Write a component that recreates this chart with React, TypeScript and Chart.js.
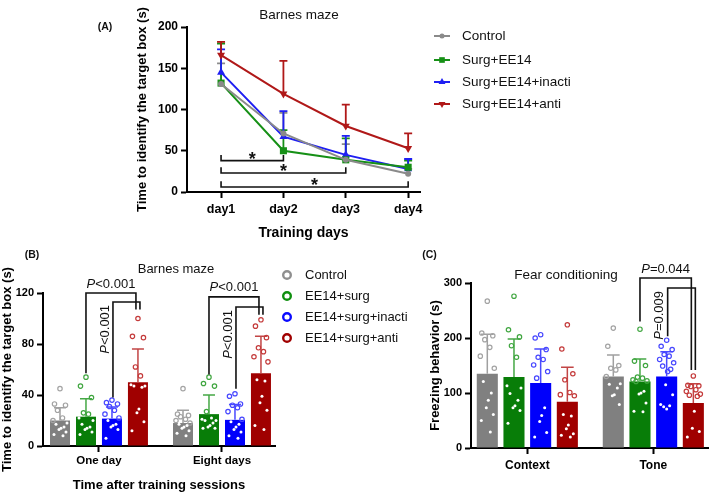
import React, { useEffect, useRef } from 'react';
import { Chart, registerables } from 'chart.js';

Chart.register(...registerables);

const FONT = "Arial, 'Liberation Sans', Helvetica, sans-serif";

// ===== Panel A: Barnes maze over training days =====
const daysA = ['day1', 'day2', 'day3', 'day4'];
const groupsA = ['Control', 'Surg+EE14', 'Surg+EE14+inacti', 'Surg+EE14+anti'];
const controlA = [131, 71, 39, 22];
const controlErrA = [25, 25, 19, 6];
const ee14A = [132, 50, 39, 30];
const ee14ErrA = [48, 25, 26, 8];
const inactiA = [145, 67, 45, 28];
const inactiErrA = [28, 31, 23, 12];
const antiA = [166, 119, 80, 53];
const antiErrA = [16, 40, 26, 18];
const yTicksA = [0, 50, 100, 150, 200];
const sigFromA = [0, 0, 0];
const sigToA = [1, 2, 3];
const sigLevelA = [38, 23, 6];
const sigLabelA = ['*', '*', '*'];

// ===== Panel B: Barnes maze after training =====
const sessionsB = ['One day', 'Eight days'];
const groupsB = ['Control', 'EE14+surg', 'EE14+surg+inacti', 'EE14+surg+anti'];
const controlB = [20, 18];
const controlSdB = [10, 10];
const ee14B = [23, 25];
const ee14SdB = [14, 15];
const inactiB = [21.5, 20.5];
const inactiSdB = [9, 12];
const antiB = [50, 57];
const antiSdB = [26, 29];
const controlPtsB = [
  [45, 33, 32, 28, 22, 20, 18, 17, 15, 14, 13, 11, 9, 8],
  [45, 25, 24, 23, 21, 20, 18, 17, 16, 15, 14, 12, 10, 8],
];
const ee14PtsB = [
  [54, 47, 38, 26, 25, 22, 20, 17, 15, 14, 13, 11, 9],
  [54, 49, 47, 27, 22, 21, 20, 20, 18, 16, 15, 14, 14],
];
const inactiPtsB = [
  [36, 34, 33, 31, 28, 25, 22, 20, 17, 16, 15, 13, 6],
  [41, 39, 33, 32, 30, 27, 21, 19, 17, 15, 13, 11, 8, 6],
];
const antiPtsB = [
  [100, 86, 85, 62, 55, 48, 47, 47, 46, 29, 26, 19, 12],
  [99, 94, 85, 77, 74, 70, 66, 52, 51, 39, 34, 28, 16, 13],
];
const yTicksB = [0, 40, 80, 120];
const bracketsB = [
  { group: 0, from: 1, to: 3, start: 57, top: 120, end: 107, label: 'P<0.001', vertical: false },
  { group: 0, from: 2, to: 3, start: 38, top: 113, end: 107, label: 'P<0.001', vertical: true },
  { group: 1, from: 1, to: 3, start: 56, top: 117, end: 103, label: 'P<0.001', vertical: false },
  { group: 1, from: 2, to: 3, start: 45, top: 109, end: 103, label: 'P<0.001', vertical: true },
];

// ===== Panel C: Fear conditioning =====
const testsC = ['Context', 'Tone'];
const controlC = [135, 130];
const controlSdC = [72, 39];
const ee14C = [129, 121];
const ee14SdC = [69, 41];
const inactiC = [118, 130];
const inactiSdC = [62, 45];
const antiC = [84, 82];
const antiSdC = [63, 35];
const controlPtsC = [
  [267, 209, 204, 197, 183, 167, 145, 121, 100, 87, 73, 61, 50, 29],
  [218, 185, 150, 145, 142, 130, 117, 116, 109, 97, 95, 79],
];
const ee14PtsC = [
  [276, 215, 202, 186, 165, 113, 109, 99, 87, 77, 73, 68, 45],
  [216, 158, 150, 129, 127, 124, 122, 121, 103, 100, 98, 82, 67, 66],
];
const inactiPtsC = [
  [206, 200, 179, 165, 161, 151, 139, 127, 73, 59, 48, 28, 20],
  [196, 185, 179, 170, 167, 161, 155, 149, 143, 139, 115, 97, 79, 77, 75, 71],
];
const antiPtsC = [
  [224, 180, 135, 124, 101, 97, 95, 61, 58, 42, 35, 26, 23, 20],
  [131, 114, 113, 112, 106, 103, 98, 96, 94, 67, 36, 30, 20],
];
const yTicksC = [0, 100, 200, 300];
const bracketsC = [
  { group: 1, from: 1, to: 3, start: 230, top: 309, end: 142, label: 'P=0.044', vertical: false },
  { group: 1, from: 2, to: 3, start: 203, top: 291, end: 142, label: 'P=0.009', vertical: true },
];

// ===== styles =====
const LINE_COLORS = ['#8a8a8a', '#169016', '#1f1ff2', '#b01818'];
const BAR_COLORS = ['#808080', '#087d08', '#0000fb', '#a00000'];
const PT_COLORS = ['#a3a3a3', '#40a640', '#4646ff', '#c43a3a'];
const ERR_COLORS = ['#a0a0a0', '#45a845', '#4a4aff', '#c24545'];
const LEG_COLORS = ['#8f8f8f', '#0f8f0f', '#0a0aff', '#a00000'];
const JIT = [0, -5.5, 5.5, -2.5, 2.5, -7, 7, -4, 4, 1, -1, 6, -6, 3, -3, 0];

function marker(ctx: CanvasRenderingContext2D, style: string, x: number, y: number, r: number, color: string) {
  ctx.fillStyle = color;
  ctx.beginPath();
  if (style === 'circle') ctx.arc(x, y, r, 0, Math.PI * 2);
  else if (style === 'rect') ctx.rect(x - r * 0.707, y - r * 0.707, r * 1.414, r * 1.414);
  else if (style === 'tri') {
    ctx.moveTo(x, y - r); ctx.lineTo(x + r * 0.866, y + r * 0.5); ctx.lineTo(x - r * 0.866, y + r * 0.5); ctx.closePath();
  } else {
    ctx.moveTo(x, y + r); ctx.lineTo(x + r * 0.866, y - r * 0.5); ctx.lineTo(x - r * 0.866, y - r * 0.5); ctx.closePath();
  }
  ctx.fill();
}

function text(ctx: CanvasRenderingContext2D, s: string, x: number, y: number, size: number, bold: boolean, align: CanvasTextAlign = 'center') {
  ctx.save();
  ctx.font = `${bold ? 'bold ' : ''}${size}px ${FONT}`;
  ctx.fillStyle = '#111';
  ctx.textAlign = align;
  ctx.textBaseline = 'middle';
  ctx.fillText(s, x, y);
  ctx.restore();
}

function drawP(ctx: CanvasRenderingContext2D, s: string, x: number, y: number, rotated: boolean, size: number) {
  const first = s[0];
  const rest = s.slice(1);
  ctx.save();
  ctx.fillStyle = '#111';
  ctx.textBaseline = 'middle';
  ctx.textAlign = 'left';
  ctx.font = `italic ${size}px ${FONT}`;
  const w1 = ctx.measureText(first).width;
  ctx.font = `${size}px ${FONT}`;
  const w2 = ctx.measureText(rest).width;
  ctx.translate(x, y);
  let start = -(w1 + w2) / 2;
  if (rotated) {
    ctx.rotate(-Math.PI / 2);
    start = -(w1 + w2);
  }
  ctx.font = `italic ${size}px ${FONT}`;
  ctx.fillText(first, start, 0);
  ctx.font = `${size}px ${FONT}`;
  ctx.fillText(rest, start + w1, 0);
  ctx.restore();
}

const axisCommon = (tickFont: number) => ({
  grid: { display: true, drawOnChartArea: false, drawTicks: true, tickLength: 6, tickWidth: 2, color: '#000', offset: false },
  border: { display: true, color: '#000', width: 2 },
  ticks: { color: '#000', font: { family: FONT, size: tickFont, weight: 'bold' as const }, maxRotation: 0, autoSkip: false },
});

function makeA(canvas: HTMLCanvasElement) {
  const means = [controlA, ee14A, inactiA, antiA];
  const errs = [controlErrA, ee14ErrA, inactiErrA, antiErrA];
  const styles = ['circle', 'rect', 'triangle', 'triangle'];
  const radii = [3, 5, 4.6, 4.6];
  const rots = [0, 0, 0, 180];
  const legStyles = ['circle', 'rect', 'tri', 'triDown'];
  const plugin = {
    id: 'panelA',
    beforeDatasetsDraw(chart: any) {
      const ctx = chart.ctx as CanvasRenderingContext2D;
      const yS = chart.scales.y;
      means.forEach((m, di) => {
        const meta = chart.getDatasetMeta(di);
        ctx.save();
        ctx.strokeStyle = LINE_COLORS[di];
        ctx.lineWidth = 1.8;
        m.forEach((v, i) => {
          const x = meta.data[i].x;
          const y0 = yS.getPixelForValue(v);
          const y1 = yS.getPixelForValue(v + errs[di][i]);
          ctx.beginPath();
          ctx.moveTo(x, y0); ctx.lineTo(x, y1);
          ctx.moveTo(x - 4, y1); ctx.lineTo(x + 4, y1);
          ctx.stroke();
        });
        ctx.restore();
      });
    },
    afterDraw(chart: any) {
      const ctx = chart.ctx as CanvasRenderingContext2D;
      const xS = chart.scales.x;
      const yS = chart.scales.y;
      ctx.save();
      ctx.strokeStyle = '#111';
      ctx.lineWidth = 1.6;
      sigLevelA.forEach((lvl, k) => {
        const x1 = xS.getPixelForValue(sigFromA[k] + 1);
        const x2 = xS.getPixelForValue(sigToA[k] + 1);
        const yl = yS.getPixelForValue(lvl);
        const yt = yS.getPixelForValue(lvl + 7);
        ctx.beginPath();
        ctx.moveTo(x1, yt); ctx.lineTo(x1, yl); ctx.lineTo(x2, yl); ctx.lineTo(x2, yt);
        ctx.stroke();
        ctx.font = `bold 18px ${FONT}`;
        ctx.fillStyle = '#111';
        ctx.textAlign = 'center';
        ctx.textBaseline = 'alphabetic';
        ctx.fillText(sigLabelA[k], (x1 + x2) / 2, yl + 4);
      });
      ctx.restore();
      // legend
      const ly = [36, 60, 82, 104];
      groupsA.forEach((g, i) => {
        ctx.save();
        ctx.strokeStyle = LINE_COLORS[i];
        ctx.lineWidth = 2;
        ctx.beginPath(); ctx.moveTo(344, ly[i]); ctx.lineTo(360, ly[i]); ctx.stroke();
        ctx.restore();
        marker(ctx, legStyles[i], 352, ly[i], i === 0 ? 2.5 : 4, LINE_COLORS[i]);
        text(ctx, g, 372, ly[i], 13.5, false, 'left');
      });
      text(ctx, '(A)', 15, 27, 10.5, true);
      text(ctx, 'Barnes maze', 209, 15, 13.5, false);
    },
  };
  const base = axisCommon(12);
  return new Chart(canvas, {
    type: 'line',
    data: {
      datasets: means.map((m, di) => ({
        label: groupsA[di],
        data: m.map((v, i) => ({ x: i + 1, y: v })),
        borderColor: LINE_COLORS[di],
        backgroundColor: LINE_COLORS[di],
        borderWidth: 2,
        pointStyle: styles[di] as any,
        pointRadius: radii[di],
        pointRotation: rots[di],
        pointBorderWidth: 0,
        tension: 0,
      })),
    },
    options: {
      responsive: false,
      animation: false,
      devicePixelRatio: 1,
      events: [],
      layout: { padding: { left: 0, top: 27, right: 150, bottom: 0 } },
      plugins: { legend: { display: false }, tooltip: { enabled: false } },
      scales: {
        x: {
          type: 'linear',
          min: 0.454,
          max: 4.19,
          offset: false,
          ...base,
          ticks: { ...base.ticks, font: { family: FONT, size: 12.5, weight: 'bold' }, padding: 4, callback: (v: any) => daysA[v - 1] ?? '' },
          afterBuildTicks: (s: any) => { s.ticks = daysA.map((_, i) => ({ value: i + 1 })); },
          afterFit: (s: any) => { s.height = 53; },
          title: { display: true, text: 'Training days', color: '#000', font: { family: FONT, size: 14, weight: 'bold', lineHeight: 1.2 }, padding: { top: 0, bottom: 3 } },
        },
        y: {
          min: 0,
          max: 200,
          ...base,
          ticks: { ...base.ticks, padding: 3 },
          afterBuildTicks: (s: any) => { s.ticks = yTicksA.map((v) => ({ value: v })); },
          afterFit: (s: any) => { s.width = 97; },
          title: { display: true, text: 'Time to identify the target box (s)', color: '#000', font: { family: FONT, size: 13, weight: 'bold', lineHeight: 1.2 }, padding: { top: 45, bottom: 0 } },
        },
      },
    } as any,
    plugins: [plugin],
  });
}

type Bracket = { group: number; from: number; to: number; start: number; top: number; end: number; label: string; vertical: boolean };

type BarCfg = {
  cats: string[];
  means: number[][];
  sds: number[][];
  pts: number[][][];
  yTicks: number[];
  brackets: Bracket[];
  xMin: number; xMax: number;
  catPct: number; barPct: number;
  padding: any;
  yWidth: number; xHeight: number;
  yTitle: string; yTitlePad: number;
  xTitle?: string;
  yFont: number; xFont: number; xTickPad: number;
  extra: (ctx: CanvasRenderingContext2D) => void;
};

function makeBar(canvas: HTMLCanvasElement, cfg: BarCfg) {
  const plugin = {
    id: 'barDecor',
    afterDatasetsDraw(chart: any) {
      const ctx = chart.ctx as CanvasRenderingContext2D;
      const yS = chart.scales.y;
      cfg.means.forEach((m, di) => {
        const meta = chart.getDatasetMeta(di);
        m.forEach((mean, gi) => {
          const bar = meta.data[gi];
          const x = bar.x;
          const w = bar.width;
          const y0 = yS.getPixelForValue(mean);
          const y1 = yS.getPixelForValue(mean + cfg.sds[di][gi]);
          ctx.save();
          ctx.strokeStyle = ERR_COLORS[di];
          ctx.lineWidth = 1.5;
          ctx.beginPath();
          ctx.moveTo(x, y0); ctx.lineTo(x, y1);
          ctx.moveTo(x - w * 0.3, y1); ctx.lineTo(x + w * 0.3, y1);
          ctx.stroke();
          cfg.pts[di][gi].forEach((v, k) => {
            const px = x + JIT[k % JIT.length];
            const py = yS.getPixelForValue(v);
            if (v < mean) {
              ctx.fillStyle = '#ffffff';
              ctx.beginPath(); ctx.arc(px, py, 1.5, 0, Math.PI * 2); ctx.fill();
            } else {
              ctx.strokeStyle = PT_COLORS[di];
              ctx.lineWidth = 1.2;
              ctx.beginPath(); ctx.arc(px, py, 2.2, 0, Math.PI * 2); ctx.stroke();
            }
          });
          ctx.restore();
        });
      });
    },
    afterDraw(chart: any) {
      const ctx = chart.ctx as CanvasRenderingContext2D;
      const yS = chart.scales.y;
      cfg.brackets.forEach((b) => {
        const xL = chart.getDatasetMeta(b.from).data[b.group].x + (b.vertical ? 1 : 0);
        const xR = chart.getDatasetMeta(b.to).data[b.group].x + (b.vertical ? 2 : -2);
        const ys = yS.getPixelForValue(b.start);
        const yt = yS.getPixelForValue(b.top);
        const ye = yS.getPixelForValue(b.end);
        ctx.save();
        ctx.strokeStyle = '#111';
        ctx.lineWidth = 1.6;
        ctx.beginPath();
        ctx.moveTo(xL, ys); ctx.lineTo(xL, yt); ctx.lineTo(xR, yt); ctx.lineTo(xR, ye);
        ctx.stroke();
        ctx.restore();
        if (b.vertical) drawP(ctx, b.label, xL - 8, yt + 3, true, 13);
        else drawP(ctx, b.label, (xL + xR) / 2, yt - 9, false, 13);
      });
      cfg.extra(ctx);
    },
  };
  const base = axisCommon(cfg.yFont);
  return new Chart(canvas, {
    type: 'bar',
    data: {
      datasets: cfg.means.map((m, di) => ({
        label: groupsB[di],
        data: m.map((v, gi) => ({ x: gi + 1, y: v })),
        backgroundColor: BAR_COLORS[di],
        borderWidth: 0,
        categoryPercentage: cfg.catPct,
        barPercentage: cfg.barPct,
      })),
    },
    options: {
      responsive: false,
      animation: false,
      devicePixelRatio: 1,
      events: [],
      layout: { padding: cfg.padding },
      plugins: { legend: { display: false }, tooltip: { enabled: false } },
      scales: {
        x: {
          type: 'linear',
          min: cfg.xMin,
          max: cfg.xMax,
          offset: false,
          ...base,
          ticks: { ...base.ticks, font: { family: FONT, size: cfg.xFont, weight: 'bold' }, padding: cfg.xTickPad, callback: (v: any) => cfg.cats[v - 1] ?? '' },
          afterBuildTicks: (s: any) => { s.ticks = cfg.cats.map((_, i) => ({ value: i + 1 })); },
          afterFit: (s: any) => { s.height = cfg.xHeight; },
          title: cfg.xTitle
            ? { display: true, text: cfg.xTitle, color: '#000', font: { family: FONT, size: 13, weight: 'bold', lineHeight: 1 }, padding: { top: 0, bottom: 0 } }
            : { display: false },
        },
        y: {
          min: cfg.yTicks[0],
          max: cfg.yTicks[cfg.yTicks.length - 1],
          ...base,
          ticks: { ...base.ticks, padding: 3 },
          afterBuildTicks: (s: any) => { s.ticks = cfg.yTicks.map((v) => ({ value: v })); },
          afterFit: (s: any) => { s.width = cfg.yWidth; },
          title: { display: true, text: cfg.yTitle, color: '#000', font: { family: FONT, size: 13, weight: 'bold', lineHeight: 1.2 }, padding: { top: cfg.yTitlePad, bottom: 0 } },
        },
      },
    } as any,
    plugins: [plugin],
  });
}

export default function App() {
  const aRef = useRef<HTMLCanvasElement>(null);
  const bRef = useRef<HTMLCanvasElement>(null);
  const cRef = useRef<HTMLCanvasElement>(null);

  useEffect(() => {
    const charts: Chart[] = [];
    charts.push(makeA(aRef.current!));
    charts.push(
      makeBar(bRef.current!, {
        cats: sessionsB,
        means: [controlB, ee14B, inactiB, antiB],
        sds: [controlSdB, ee14SdB, inactiSdB, antiSdB],
        pts: [controlPtsB, ee14PtsB, inactiPtsB, antiPtsB],
        yTicks: yTicksB,
        brackets: bracketsB,
        xMin: 0.545,
        xMax: 2.431,
        catPct: 0.845,
        barPct: 0.77,
        padding: { left: 0, top: 63, right: 155, bottom: 0 },
        yWidth: 43,
        xHeight: 46,
        yTitle: 'Time to identify the target box (s)',
        yTitlePad: 0,
        xTitle: 'Time after training sessions',
        yFont: 11,
        xFont: 11.5,
        xTickPad: 2,
        extra: (ctx) => {
          text(ctx, '(B)', 32, 25, 10.5, true);
          text(ctx, 'Barnes maze', 176, 39, 13, false);
          const ly = [45, 66, 87, 108];
          groupsB.forEach((g, i) => {
            ctx.save();
            ctx.strokeStyle = LEG_COLORS[i];
            ctx.lineWidth = 2.4;
            ctx.beginPath(); ctx.arc(287, ly[i], 3.8, 0, Math.PI * 2); ctx.stroke();
            ctx.restore();
            text(ctx, g, 305, ly[i], 13, false, 'left');
          });
        },
      })
    );
    charts.push(
      makeBar(cRef.current!, {
        cats: testsC,
        means: [controlC, ee14C, inactiC, antiC],
        sds: [controlSdC, ee14SdC, inactiSdC, antiSdC],
        pts: [controlPtsC, ee14PtsC, inactiPtsC, antiPtsC],
        yTicks: yTicksC,
        brackets: bracketsC,
        xMin: 0.553,
        xMax: 2.434,
        catPct: 0.847,
        barPct: 0.79,
        padding: { left: 0, top: 43, right: 1, bottom: 0 },
        yWidth: 56,
        xHeight: 44,
        yTitle: 'Freezing behavior (s)',
        yTitlePad: 13,
        yFont: 11,
        xFont: 12,
        xTickPad: 4,
        extra: (ctx) => {
          text(ctx, '(C)', 14.5, 15, 10.5, true);
          text(ctx, 'Fear conditioning', 151, 35, 13.5, false);
        },
      })
    );
    return () => charts.forEach((c) => c.destroy());
  }, []);

  return (
    <div style={{ position: 'absolute', left: 0, top: 0, width: 709, height: 492, background: '#fff', overflow: 'hidden' }}>
      <canvas ref={aRef} width={480} height={245} style={{ position: 'absolute', left: 90, top: 0 }} />
      <canvas ref={bRef} width={430} height={262} style={{ position: 'absolute', left: 0, top: 230 }} />
      <canvas ref={cRef} width={294} height={252} style={{ position: 'absolute', left: 415, top: 240 }} />
    </div>
  );
}
